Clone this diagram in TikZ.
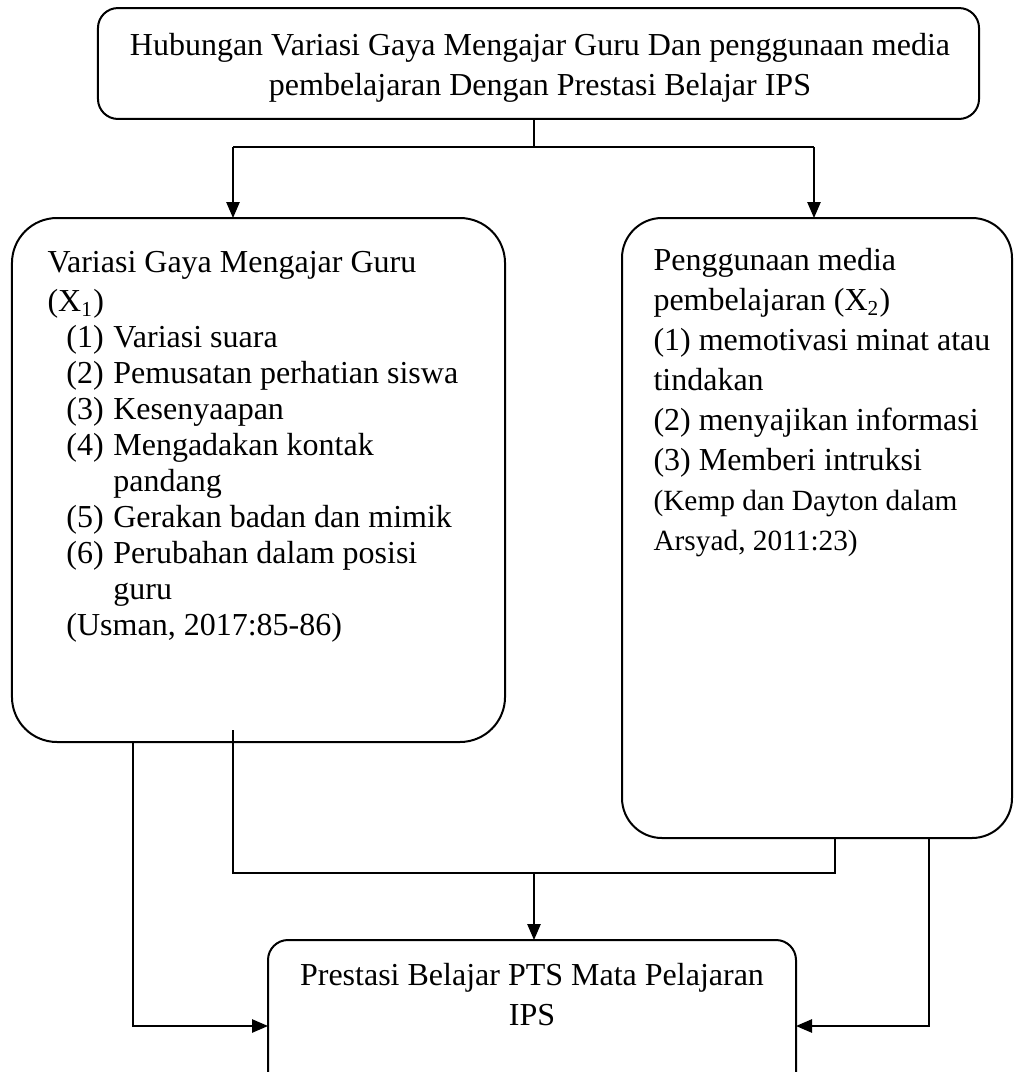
\documentclass[tikz,border=0pt]{standalone}
\usepackage{fontspec}
\setmainfont{Liberation Serif}
\usetikzlibrary{arrows.meta}
\newcommand\lbitem[1]{\hspace*{7.1pt}\makebox[17.6pt][l]{#1}}
\newcommand\lbcont{\hspace*{24.7pt}}
\newcommand\smallcite{\fontsize{11pt}{13.6pt}\selectfont}
\begin{document}
\begin{tikzpicture}[x=0.375pt,y=-0.375pt,
  frame/.style={draw, line width=0.75pt, inner sep=0pt, outer sep=0pt},
  conn/.style={line width=0.6pt},
  arr/.style={conn, -{Triangle[length=6pt,width=5pt]}},
  txt/.style={inner sep=0pt, font=\fontsize{12pt}{15pt}\selectfont},
]
\useasboundingbox (0,0) rectangle (1014,1072);
\clip (0,0) rectangle (1014,1072);
% boxes
\node[frame, rounded corners=7.5pt, minimum width=330.4pt, minimum height=41.6pt] (top) at (538.5,63.5) {};
\node[frame, rounded corners=16.9pt, minimum width=184.9pt, minimum height=196.5pt] (left) at (258.5,480) {};
\node[frame, rounded corners=15pt, minimum width=146.25pt, minimum height=232.5pt] (right) at (817,528) {};
\node[frame, rounded corners=7.5pt, minimum width=198pt, minimum height=60pt] (bottom) at (532,1020) {};
% texts
\node[txt, anchor=north, align=center] (toptext) at (540,33)
  {Hubungan Variasi Gaya Mengajar Guru Dan penggunaan media\\pembelajaran Dengan Prestasi Belajar IPS};
\node[txt, anchor=north west, align=left, font=\fontsize{12pt}{13.5pt}\selectfont] (ltext) at (47,251)
  {Variasi Gaya Mengajar Guru\\[1pt]
   (X\textsubscript{1})\\
   \lbitem{(1)}Variasi suara\\
   \lbitem{(2)}Pemusatan perhatian siswa\\
   \lbitem{(3)}Kesenyaapan\\
   \lbitem{(4)}Mengadakan kontak\\
   \lbcont pandang\\
   \lbitem{(5)}Gerakan badan dan mimik\\
   \lbitem{(6)}Perubahan dalam posisi\\
   \lbcont guru\\
   \hspace*{7.1pt}(Usman, 2017:85-86)};
\node[txt, anchor=north west, align=left] (rtext) at (653,248)
  {Penggunaan media\\
   pembelajaran (X\textsubscript{2})\\
   (1) memotivasi minat atau\\
   tindakan\\
   (2) menyajikan informasi\\
   (3) Memberi intruksi\\
   \smallcite (Kemp dan Dayton dalam\\
   \smallcite Arsyad, 2011:23)};
\node[txt, anchor=north, align=center] (btext) at (532,963)
  {Prestasi Belajar PTS Mata Pelajaran\\IPS};
% connectors
\coordinate (s) at (534,147);
\coordinate (aL) at (233,147);
\coordinate (aR) at (814,147);
\draw[conn] (top.south -| s) -- (s);
\draw[conn] (aL) -- (aR);
\draw[arr] (aL) -- (aL |- left.north);
\draw[arr] (aR) -- (aR |- right.north);
\coordinate (m1) at (233,730);
\coordinate (m2) at (233,873);
\coordinate (m3) at (835,873);
\draw[conn] (m1) -- (m2) -- (m3) -- (m3 |- right.south);
\coordinate (mc) at (534,873);
\draw[arr] (mc) -- (mc |- bottom.north);
\coordinate (l1) at (133,1026);
\draw[arr] (l1 |- left.south) -- (l1) -- (l1 -| bottom.west);
\coordinate (r1) at (929,1026);
\draw[arr] (r1 |- right.south) -- (r1) -- (r1 -| bottom.east);
\end{tikzpicture}
\end{document}
